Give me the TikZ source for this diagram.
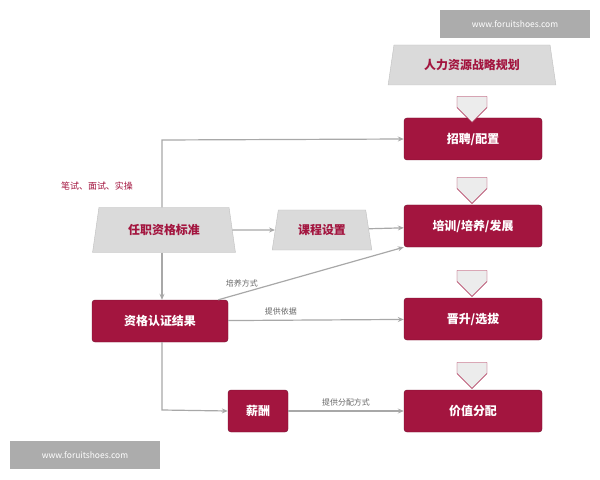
\documentclass[tikz,border=0pt]{standalone}
\usepackage{fontspec}
\setmainfont{Noto Sans CJK SC}
\newfontfamily\cjkb{Noto Sans CJK SC}[FakeBold=0]
\usetikzlibrary{positioning,shapes.geometric,shapes.arrows,arrows.meta}
\definecolor{boxred}{HTML}{A3153F}
\definecolor{trapgray}{HTML}{DADADA}
\definecolor{linegray}{HTML}{A8A8A8}
\tikzset{
  redbox/.style={draw=boxred!70!black, fill=boxred, rounded corners=3pt, text=white,
    minimum width=138bp, minimum height=42bp, font=\bfseries\fontsize{12}{12}\selectfont},
  trap/.style={trapezium, trapezium stretches=true, trapezium left angle=78, trapezium right angle=78,
    draw=gray!50, fill=trapgray, text=boxred, font=\bfseries\fontsize{12}{12}\selectfont},
  hollow/.style={single arrow, draw=boxred, fill=gray!15, rotate=-90, minimum width=30bp,
    single arrow head extend=0pt, minimum height=26bp, inner sep=4pt},
  flow/.style={linegray, line width=1.2pt, -{Stealth[length=6pt,width=5pt]}},
  lbl/.style={text=gray!80!black, font=\fontsize{8}{8}\selectfont},
  wmark/.style={fill=gray!65, text=white, font=\fontsize{8.5}{8.5}\selectfont, minimum width=150bp, minimum height=28bp}
}
\begin{document}
\begin{tikzpicture}[x=1bp,y=-1bp]
	\useasboundingbox (0,0) rectangle (600,480);
	\node[wmark] (wm1) at (515,24) {www.foruitshoes.com};
	\node[wmark] (wm2) at (85,455) {www.foruitshoes.com};

	\node[trap, minimum width=168bp, minimum height=40bp] (plan) at (472,65) {人力资源战略规划};
	\node[redbox] (rec)   at (473,139) {招聘/配置};
	\node[redbox] (train) at (473,226) {培训/培养/发展};
	\node[redbox] (prom)  at (473,319) {晋升/选拔};
	\node[redbox] (val)   at (473,411) {价值分配};

	\node[hollow] (a1) at (472,102) {};
	\node[hollow] (a2) at (472,183) {};
	\node[hollow] (a3) at (472,276) {};
	\node[hollow] (a4) at (472,368) {};

	\node[trap, minimum width=144bp, minimum height=45bp] (std) at (164,230) {任职资格标准};
	\node[trap, minimum width=100bp, minimum height=40bp] (course) at (322,230) {课程设置};
	\node[redbox, minimum width=136bp] (cert) at (160,321) {资格认证结果};
	\node[redbox, minimum width=60bp] (pay) at (258,411) {薪酬};

	\node[text=boxred, font=\fontsize{9}{9}\selectfont] (exam) at (97,186) {笔试、面试、实操};
	\coordinate (c1) at (162,140);
	\coordinate (c2) at (162,410);

	\draw[flow] (std.north -| c1) -- (c1) -- (rec.west);
	\draw[flow] (std) -- (course);
	\draw[flow] (course) -- (train);
	\draw[flow] (std.south -| c1) -- (cert.north -| c1);
	\draw[flow] (cert.20) -- (train.south west) node[lbl, pos=0.17, above left=0pt and -12pt] {培养方式};
	\draw[flow] (cert) -- (prom) node[lbl, pos=0.3, above=1pt] {提供依据};
	\draw[flow] (cert.south -| c2) -- (c2) -- (pay.west);
	\draw[flow] (pay) -- (val) node[lbl, midway, above=1pt] {提供分配方式};
\end{tikzpicture}
\end{document}
